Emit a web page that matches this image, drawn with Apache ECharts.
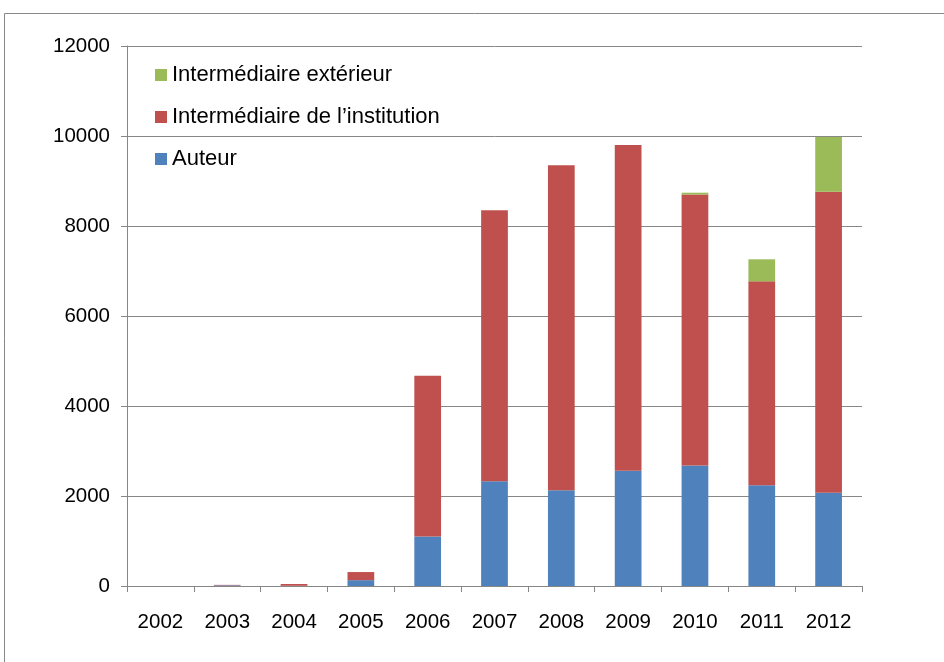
<!DOCTYPE html>
<html><head><meta charset="utf-8">
<script src="https://cdn.jsdelivr.net/npm/echarts@6/dist/echarts.min.js"></script>
<style>html,body{margin:0;padding:0;background:#fff}#c{width:944px;height:662px}</style>
</head><body><div id="c"></div>
<script>
const years = ['2002','2003','2004','2005','2006','2007','2008','2009','2010','2011','2012'];
const auteur = [-45, 15, 5, 130, 1100, 2330, 2130, 2560, 2680, 2240, 2070];
const interInstitution = [0, 10, 40, 180, 3570, 6020, 7220, 7240, 6020, 4530, 6690];
const interExterieur = [0, 0, 0, 0, 0, 0, 0, 0, 40, 490, 1220];
const yTicks = [0, 2000, 4000, 6000, 8000, 10000, 12000];

const names = ['Auteur', 'Intermédiaire de l\u2019institution', 'Intermédiaire extérieur'];
const colors = ['#4F81BD', '#C0504D', '#9BBB59'];
const font = 'Liberation Sans';
const chart = echarts.init(document.getElementById('c'), null, {renderer: 'canvas'});
const mk = (name, data, color) => ({
  name, type: 'bar', stack: 'total', data, barWidth: '40%',
  itemStyle: {color},
  emphasis: {disabled: true}
});
chart.setOption({
  animation: false,
  backgroundColor: '#fff',
  textStyle: {fontFamily: font},
  graphic: [{type: 'rect', shape: {x: 4.5, y: 13.5, width: 1000, height: 1000}, style: {fill: 'none', stroke: '#888', lineWidth: 1}, z: -1}],
  grid: {left: 127, right: 82, top: 46, bottom: 76, containLabel: false},
  legend: {
    orient: 'vertical', left: 155, top: 64, padding: 0, itemGap: 20, itemWidth: 12, itemHeight: 12,
    icon: 'rect', data: [names[2], names[1], names[0]],
    textStyle: {fontSize: 22, lineHeight: 22, color: '#000', fontFamily: font}
  },
  xAxis: {
    type: 'category', data: years,
    axisLine: {lineStyle: {color: '#868686'}},
    axisTick: {show: true, length: 6, lineStyle: {color: '#868686'}},
    axisLabel: {color: '#000', fontSize: 20.5, margin: 26, fontFamily: font}
  },
  yAxis: {
    type: 'value', min: yTicks[0], max: yTicks[yTicks.length - 1], interval: 2000,
    axisLine: {show: true, lineStyle: {color: '#868686'}},
    axisTick: {show: true, length: 6, lineStyle: {color: '#868686'}},
    splitLine: {lineStyle: {color: '#878787'}},
    axisLabel: {color: '#000', fontSize: 20.5, margin: 17, fontFamily: font, formatter: v => String(v)}
  },
  series: [mk(names[0], auteur, colors[0]), mk(names[1], interInstitution, colors[1]), mk(names[2], interExterieur, colors[2])]
});
</script></body></html>
